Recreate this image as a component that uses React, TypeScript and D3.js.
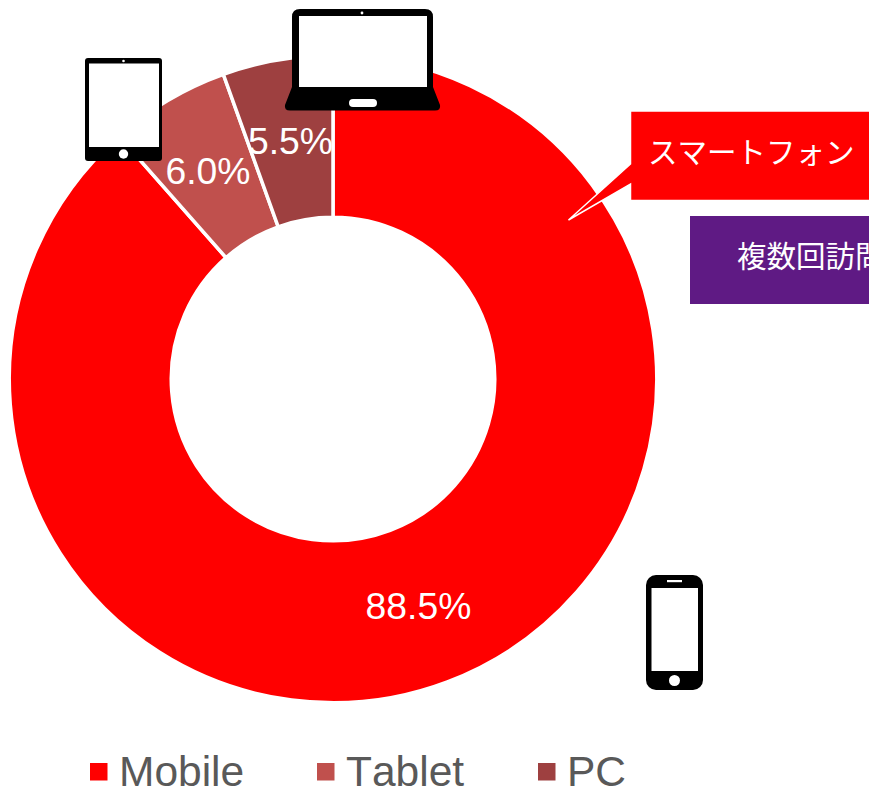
import React from "react";
import * as d3 from "d3";

const categories = ["Mobile", "Tablet", "PC"];
const shares = [88.5, 6.0, 5.5];
const sliceColors = ["#ff0000", "#c0504d", "#9e4040"];
const shareLabels = ["88.5%", "6.0%", "5.5%"];
const calloutPhone = "スマートフォン";
const calloutRepeat = "複数回訪問者";

const W = 869, H = 790, CX = 333, CY = 379, R0 = 161.75, R1 = 323.75;
const SANS = "'Liberation Sans', Arial, sans-serif";
const CJK = "'Noto Sans CJK JP', sans-serif";

function Laptop() {
  return (
    <g>
      <path fill="#000" d="M300 9H425Q433 9 433 17V87L440 105Q441 110.5 435 110.5H290Q284 110.5 285 105L292 87V17Q292 9 300 9Z" />
      <rect x={299} y={16} width={128} height={71} fill="#fff" />
      <circle cx={362} cy={13} r={1.4} fill="#fff" />
      <rect x={349} y={99} width={28} height={8} rx={4} fill="#fff" />
    </g>
  );
}
function TabletIcon() {
  return (
    <g>
      <rect x={85} y={58} width={77} height={103} rx={3} fill="#000" />
      <rect x={89} y={63.5} width={70} height={83.5} fill="#fff" />
      <circle cx={123.5} cy={61} r={1.3} fill="#fff" />
      <circle cx={123.5} cy={154} r={4.7} fill="#fff" />
    </g>
  );
}
function Phone() {
  return (
    <g>
      <rect x={646} y={575} width={57} height={115} rx={10} fill="#000" />
      <rect x={651.5} y={588} width={46.5} height={83} fill="#fff" />
      <rect x={667} y={580} width={15} height={2.2} fill="#fff" />
      <circle cx={674.5} cy={680.5} r={5.5} fill="#fff" />
    </g>
  );
}

export default function App() {
  const rows = categories.map((name, i) => ({ name, value: shares[i], color: sliceColors[i], label: shareLabels[i] }));
  const arcs = d3.pie<any>().value((d) => d.value).sort(null)(rows);
  const arc = d3.arc<any>().innerRadius(R0).outerRadius(R1);
  const labelXY: [number, number][] = [[418.5, 619], [208, 184], [290.5, 154]];
  const legendX = [90, 317, 538];
  return (
    <svg width={W} height={H} viewBox={`0 0 ${W} ${H}`} style={{ position: "absolute", left: 0, top: 0, background: "#fff", fontKerning: "none" }}>
      <g transform={`translate(${CX},${CY})`}>
        {arcs.map((a, i) => (
          <path key={i} d={arc(a) as string} fill={a.data.color} stroke="#fff" strokeWidth={3.5} />
        ))}
      </g>
      {arcs.map((a, i) => (
        <text key={i} x={labelXY[i][0]} y={labelXY[i][1]} textAnchor="middle" fontFamily={SANS} fontSize={37.3} fill="#fff">
          {a.data.label}
        </text>
      ))}
      <Laptop />
      <TabletIcon />
      <Phone />

      <path d="M630.5 111H870V200.5H630.5V184L568.5 220L630.5 164Z" fill="#ff0000" stroke="#fff" strokeWidth={1.5} />
      <text x={648} y={163} fontFamily={CJK} fontWeight={400} fontSize={29.5} fill="#fff">{calloutPhone}</text>
      <rect x={690} y={216} width={179} height={88} fill="#5f1a84" />
      <text x={737} y={267} fontFamily={CJK} fontWeight={400} fontSize={29.5} fill="#fff">{calloutRepeat}</text>

      {rows.map((r, i) => (
        <g key={r.name}>
          <rect x={legendX[i]} y={763} width={17.5} height={17.5} fill={r.color} />
          <text x={legendX[i] + 29} y={786} fontFamily={SANS} fontSize={42.5} fill="#595959">{r.name}</text>
        </g>
      ))}
    </svg>
  );
}
